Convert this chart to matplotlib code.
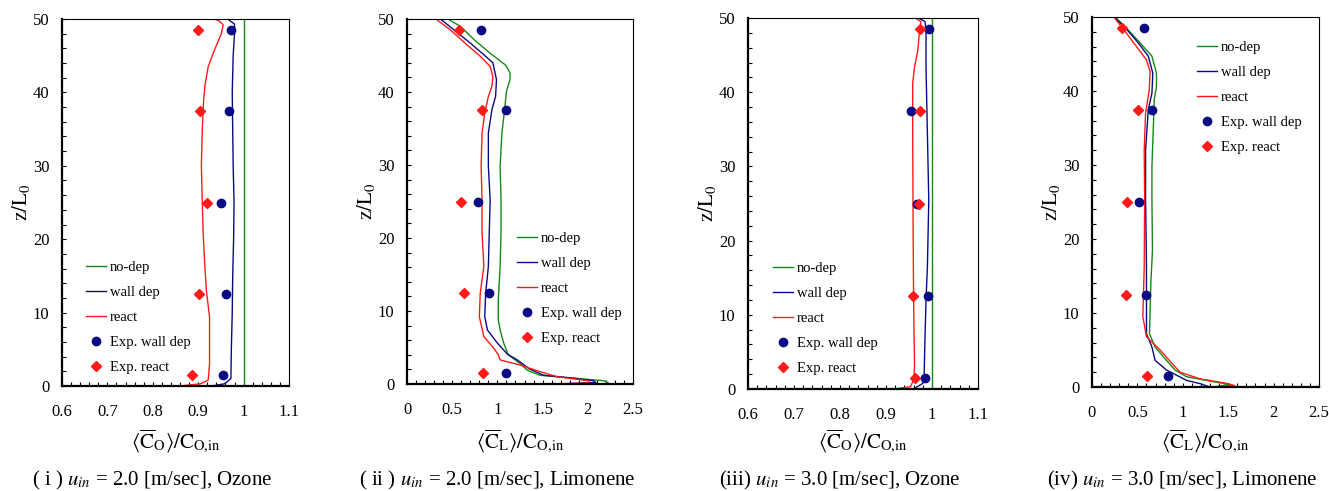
import matplotlib
matplotlib.use("Agg")
import matplotlib.pyplot as plt
from matplotlib.ticker import MultipleLocator

plt.rcParams.update(
    {
        "font.family": "Liberation Serif",
        "mathtext.fontset": "stix",
        "font.size": 12,
    }
)

GREEN = "#138a13"
NAVY = "#0a0a84"
RED = "#ff1a1a"

# measurement heights (z/L0) shared by all panels
Z_EXP = [1.5, 12.5, 25, 37.5, 48.5]

# ---- (i) u_in = 2.0, ozone
p1_nodep_z = [0, 50]
p1_nodep_x = [1.0, 1.0]
p1_wall_z = [0, 0.3, 1.0, 5, 10, 15, 20, 25, 30, 35, 40, 45, 48, 49.3, 50]
p1_wall_x = [0.93, 0.958, 0.972, 0.973, 0.975, 0.976, 0.978, 0.979, 0.977, 0.976, 0.975, 0.977, 0.980, 0.980, 0.965]
p1_react_z = [0, 0.3, 0.8, 3, 9.4, 13, 17, 20.8, 25, 30, 35, 39, 41, 43.5, 45.8, 48, 49.2, 49.8, 50]
p1_react_x = [0.86, 0.905, 0.922, 0.925, 0.925, 0.918, 0.914, 0.911, 0.909, 0.907, 0.909, 0.912, 0.915, 0.922, 0.936, 0.951, 0.955, 0.945, 0.933]
p1_exp_wall = [0.954, 0.962, 0.950, 0.967, 0.972]
p1_exp_react = [0.887, 0.901, 0.919, 0.904, 0.899]

# ---- (ii) u_in = 2.0, limonene
p2_nodep_z = [0, 0.1, 0.45, 0.8, 1.2, 1.9, 2.8, 4.0, 5.6, 7.4, 8.8, 11.5, 16.1, 20.7, 25.2, 29.8, 34.4, 37.6, 40.1, 41.7, 42.6, 43.7, 45.3, 47.2, 49, 50]
p2_nodep_x = [2.2, 2.23, 2.18, 1.84, 1.47, 1.33, 1.25, 1.12, 1.07, 1.03, 1.01, 1.01, 1.03, 1.04, 1.04, 1.03, 1.05, 1.08, 1.10, 1.14, 1.14, 1.09, 0.92, 0.74, 0.59, 0.45]
p2_wall_z = [0, 0.2, 0.45, 0.8, 1.2, 2.1, 3.3, 4.1, 5.6, 7.4, 9.2, 12.4, 16.1, 20.7, 25.2, 29.8, 34.4, 37.6, 39.4, 41.7, 44.0, 45.1, 46.7, 48.5, 50]
p2_wall_x = [1.65, 2.09, 2.06, 1.84, 1.51, 1.35, 1.22, 1.11, 1.00, 0.89, 0.86, 0.87, 0.90, 0.91, 0.92, 0.90, 0.90, 0.94, 0.98, 0.99, 0.95, 0.85, 0.70, 0.52, 0.37]
p2_react_z = [0, 0.1, 0.45, 0.7, 1.0, 1.7, 2.6, 3.3, 4.0, 4.9, 6.5, 9.2, 12.4, 16.1, 20.7, 25.2, 29.8, 34.4, 37.1, 39.4, 40.8, 42.1, 43.5, 44.9, 46.5, 48.5, 50]
p2_react_x = [1.46, 2.01, 2.01, 1.84, 1.66, 1.47, 1.25, 1.03, 1.01, 0.96, 0.85, 0.80, 0.81, 0.85, 0.83, 0.83, 0.82, 0.83, 0.86, 0.90, 0.94, 0.95, 0.92, 0.81, 0.66, 0.48, 0.32]
p2_exp_wall = [1.10, 0.91, 0.79, 1.10, 0.82]
p2_exp_react = [0.84, 0.63, 0.60, 0.83, 0.57]

# ---- (iii) u_in = 3.0, ozone
p3_nodep_z = [0, 50]
p3_nodep_x = [1.0, 1.0]
p3_wall_z = [0, 0.76, 2.1, 7.5, 12, 16.5, 25.4, 34.4, 43.4, 47.9, 49.5, 50]
p3_wall_x = [0.96, 0.98, 0.983, 0.985, 0.987, 0.99, 0.993, 0.99, 0.987, 0.987, 0.985, 0.971]
p3_react_z = [0, 0.3, 1.2, 3, 12, 21, 34.4, 41.2, 43.4, 45.6, 48.3, 49.5, 50]
p3_react_x = [0.917, 0.953, 0.96, 0.962, 0.96, 0.959, 0.958, 0.958, 0.962, 0.969, 0.973, 0.976, 0.964]
p3_exp_wall = [0.984, 0.992, 0.967, 0.954, 0.994]
p3_exp_react = [0.962, 0.959, 0.972, 0.975, 0.973]

# ---- (iv) u_in = 3.0, limonene
p4_nodep_z = [0, 0.36, 0.7, 1.4, 2.3, 3.6, 5.4, 7.2, 14, 18.5, 25.3, 29.8, 35.6, 38.8, 40.6, 42.4, 44.7, 46.5, 48.5, 50]
p4_nodep_x = [1.34, 1.52, 1.34, 1.04, 0.915, 0.82, 0.695, 0.633, 0.648, 0.666, 0.66, 0.66, 0.677, 0.685, 0.71, 0.71, 0.66, 0.53, 0.38, 0.256]
p4_wall_z = [0, 0.45, 0.9, 2.3, 3.6, 5.4, 7.2, 16.2, 25.3, 32, 37.5, 39.7, 42.4, 44.7, 46.5, 48.5, 50]
p4_wall_x = [1.30, 1.19, 1.04, 0.82, 0.695, 0.66, 0.60, 0.60, 0.59, 0.59, 0.62, 0.66, 0.67, 0.62, 0.51, 0.37, 0.24]
p4_react_z = [0, 0.2, 0.5, 1.1, 2.0, 3.2, 5.0, 6.8, 9.5, 16.2, 25.3, 32, 37, 40.1, 42.6, 44.2, 46, 48.3, 50]
p4_react_x = [1.35, 1.57, 1.48, 1.19, 0.97, 0.88, 0.75, 0.60, 0.56, 0.575, 0.58, 0.575, 0.59, 0.63, 0.64, 0.60, 0.49, 0.35, 0.24]
p4_exp_wall = [0.835, 0.60, 0.52, 0.66, 0.575]
p4_exp_react = [0.61, 0.37, 0.38, 0.51, 0.33]

XLAB_O = r"$\langle\overline{\mathrm{C}}_{\mathrm{O}}\rangle/\mathrm{C}_{\mathrm{O{,}in}}$"
XLAB_L = r"$\langle\overline{\mathrm{C}}_{\mathrm{L}}\rangle/\mathrm{C}_{\mathrm{O{,}in}}$"

W, H = 1329, 491
fig = plt.figure(figsize=(W / 100, H / 100), dpi=100)


def px_axes(left, right, top, bottom):
    return fig.add_axes([left / W, (H - bottom) / H, (right - left) / W, (bottom - top) / H])


panels = [
    dict(box=(62, 289, 19, 386), xlim=(0.6, 1.1), major=0.1, minor=0.02, xlabel=XLAB_O,
         nodep=(p1_nodep_x, p1_nodep_z), wall=(p1_wall_x, p1_wall_z), react=(p1_react_x, p1_react_z),
         ew=p1_exp_wall, er=p1_exp_react, leg=(86, 266),
         cap=r"( i ) $u_{in}$ = 2.0 [m/sec], Ozone"),
    dict(box=(407, 633, 19, 384), xlim=(0, 2.5), major=0.5, minor=0.1, xlabel=XLAB_L,
         nodep=(p2_nodep_x, p2_nodep_z), wall=(p2_wall_x, p2_wall_z), react=(p2_react_x, p2_react_z),
         ew=p2_exp_wall, er=p2_exp_react, leg=(517, 237),
         cap=r"( ii ) $u_{in}$ = 2.0 [m/sec], Limonene"),
    dict(box=(748, 978, 18, 389), xlim=(0.6, 1.1), major=0.1, minor=0.02, xlabel=XLAB_O,
         nodep=(p3_nodep_x, p3_nodep_z), wall=(p3_wall_x, p3_wall_z), react=(p3_react_x, p3_react_z),
         ew=p3_exp_wall, er=p3_exp_react, leg=(773, 267),
         cap=r"(iii) $u_{in}$ = 3.0 [m/sec], Ozone"),
    dict(box=(1092, 1319, 17, 387), xlim=(0, 2.5), major=0.5, minor=0.1, xlabel=XLAB_L,
         nodep=(p4_nodep_x, p4_nodep_z), wall=(p4_wall_x, p4_wall_z), react=(p4_react_x, p4_react_z),
         ew=p4_exp_wall, er=p4_exp_react, leg=(1197, 46),
         cap=r"(iv) $u_{in}$ = 3.0 [m/sec], Limonene"),
]

for p in panels:
    left, right, top, bottom = p["box"]
    ax = px_axes(left, right, top, bottom)
    ax.plot(*p["nodep"], color=GREEN, lw=1.0, label="no-dep")
    ax.plot(*p["wall"], color=NAVY, lw=1.0, label="wall dep")
    ax.plot(*p["react"], color=RED, lw=1.0, label="react")
    ax.plot(p["ew"], Z_EXP, "o", color=NAVY, ms=6, label="Exp. wall dep")
    ax.plot(p["er"], Z_EXP, "D", color=RED, ms=5, label="Exp. react")

    ax.set_xlim(*p["xlim"])
    ax.set_ylim(0, 50)
    ax.xaxis.set_major_locator(MultipleLocator(p["major"]))
    ax.xaxis.set_minor_locator(MultipleLocator(p["minor"]))
    ax.yaxis.set_major_locator(MultipleLocator(10))
    ax.yaxis.set_minor_locator(MultipleLocator(2))
    ax.xaxis.set_major_formatter(lambda v, _: f"{v:g}")
    ax.tick_params(which="both", direction="in", length=3, width=0.8, top=False, right=False)
    ax.tick_params(axis="x", which="major", pad=13, labelsize=12)
    ax.tick_params(axis="y", which="major", pad=9, labelsize=12)
    for s in ("left", "bottom"):
        ax.spines[s].set_linewidth(1.6)
    for s in ("top", "right"):
        ax.spines[s].set_linewidth(0.8)

    aw, ah = right - left, bottom - top
    ax.set_xlabel(p["xlabel"], fontsize=15)
    ax.xaxis.set_label_coords(0.5, -(428 - bottom) / ah)
    ax.set_ylabel(r"$\mathrm{z/L_0}$", fontsize=15)
    ax.yaxis.set_label_coords(-30 / aw, 0.5)

    lx, ly = p["leg"]
    ax.legend(
        loc="upper left",
        bbox_to_anchor=((lx - left) / aw, (bottom - ly + 5) / ah),
        frameon=False,
        fontsize=10.5,
        borderpad=0,
        borderaxespad=0,
        handlelength=1.4,
        handletextpad=0.25,
        labelspacing=0.8,
    )

    fig.text((left + right) / 2 / W - 23 / W, 1 - 480 / H, p["cap"], fontsize=15,
             ha="center", va="center")

fig.savefig("out.png", dpi=100)
